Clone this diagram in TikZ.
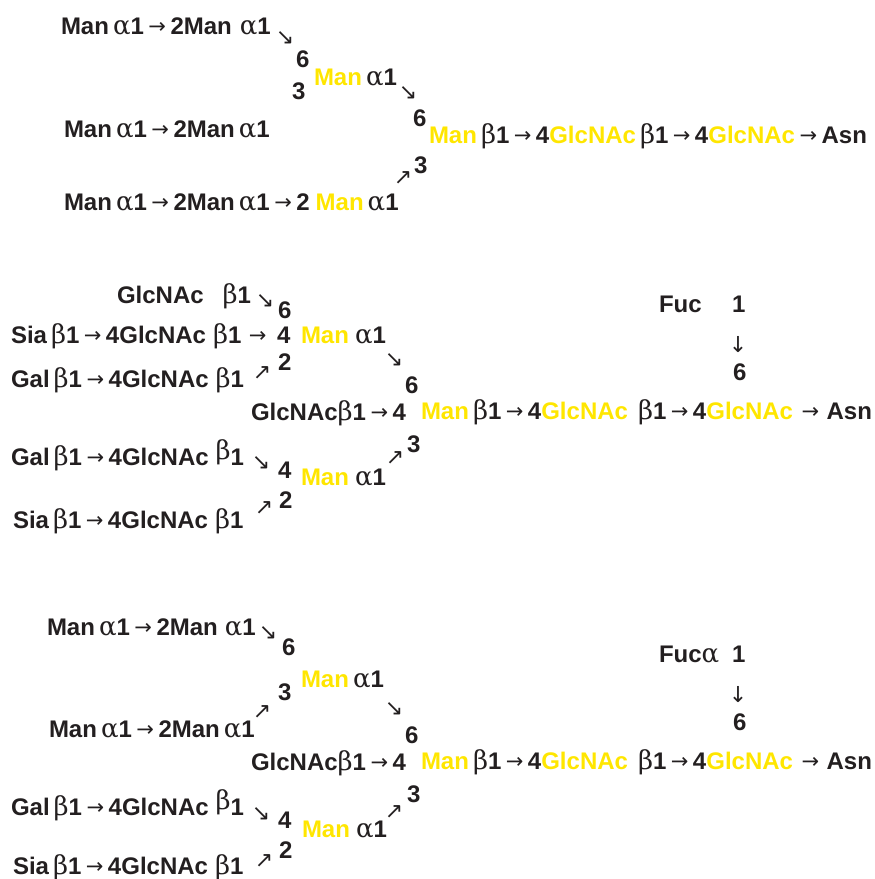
\documentclass[tikz,border=0pt]{standalone}
\usepackage{fontspec}
\setmainfont{Liberation Sans}
\newfontfamily\grkfont{DejaVu Serif}
\newfontfamily\arrfont{DejaVu Sans}
\usepackage{xcolor}
\definecolor{manyel}{RGB}{255,230,0}
\definecolor{ink}{RGB}{35,31,32}

\newcommand\gr[1]{{\grkfont\mdseries\fontsize{26}{26}\selectfont #1}}
\newcommand\alp{\kern4pt\gr{α}}
\newcommand\bet{\kern4pt\gr{β}}
\newcommand\rarr{\kern4.5pt\raisebox{1pt}{\arrfont\mdseries\fontsize{21}{21}\selectfont →}\kern4.5pt}
\newcommand\yel[1]{\textcolor{manyel}{#1}}

\begin{document}
\begin{tikzpicture}[x=1pt, y=-1pt,
  lbl/.style={anchor=base west, inner sep=0pt, outer sep=0pt, text=ink,
    font=\bfseries\fontsize{24}{24}\selectfont},
  arr/.style={inner sep=0pt, outer sep=0pt, text=ink,
    font=\arrfont\fontsize{22}{22}\selectfont}]
\useasboundingbox (0,0) rectangle (875,879);

% high-mannose
\node[lbl] (hmA) at (61,34) {Man\alp1\rarr2Man\kern4pt\alp1};
\node[arr] (hmAse) at (285,38) {↘};
\node[lbl] (hmSixA) at (296,67) {6};
\node[lbl] (hmThreeA) at (292,99) {3};
\node[lbl] (hmManA) at (314,85) {\yel{Man}\alp1};
\node[arr] (hmManAse) at (408,93) {↘};
\node[lbl] (hmSix) at (413,126) {6};
\node[lbl] (hmB) at (64,137) {Man\alp1\rarr2Man\alp1};
\node[lbl] (hmCore) at (429,143) {\yel{Man}\bet1\rarr4\yel{GlcNAc}\bet1\rarr4\yel{GlcNAc}\rarr Asn};
\node[lbl] (hmThree) at (414,173) {3};
\node[arr] (hmne) at (403,178) {↗};
\node[lbl] (hmC) at (64,210) {Man\alp1\rarr2Man\alp1\rarr2\kern6pt\yel{Man}\alp1};

% complex
\node[lbl] (cxG) at (117,303) {GlcNAc\kern15pt\bet1};
\node[arr] (cxGse) at (265,301) {↘};
\node[lbl] (cxSixA) at (278,318) {6};
\node[lbl] (cxSia) at (11,343) {Sia\bet1\rarr4GlcNAc\kern3pt\bet1\kern3pt\rarr};
\node[lbl] (cxFourA) at (277,343) {4};
\node[lbl] (cxManA) at (301,343) {\yel{Man}\kern2pt\alp1};
\node[lbl] (cxTwoA) at (278,370) {2};
\node[arr] (cxGalne) at (262,373) {↗};
\node[lbl] (cxGal) at (11,387) {Gal\bet1\rarr4GlcNAc\kern3pt\bet1};
\node[arr] (cxManAse) at (394,360) {↘};
\node[lbl] (cxSix) at (405,393) {6};
\node[lbl] (cxBis) at (251,420) {GlcNAc\gr{β}1\rarr4};
\node[lbl] (cxCore) at (421,419) {\yel{Man}\bet1\rarr4\yel{GlcNAc}\kern6pt\bet1\rarr4\yel{GlcNAc}\kern4pt\rarr\kern3pt Asn};
\node[lbl] (cxFuc) at (659,312) {Fuc};
\node[lbl] (cxFucOne) at (732,312) {1};
\node[arr] (cxFucDn) at (738,345) {↓};
\node[lbl] (cxFucSix) at (733,380) {6};
\node[lbl] (cxThree) at (407,452) {3};
\node[arr] (cxManBne) at (395,458) {↗};
\node[lbl] (cxGalB) at (11,465) {Gal\bet1\rarr4GlcNAc\kern3pt\raisebox{6pt}{\bet}1};
\node[arr] (cxGalBse) at (261,463) {↘};
\node[lbl] (cxFourB) at (278,478) {4};
\node[lbl] (cxManB) at (301,485) {\yel{Man}\kern2pt\alp1};
\node[arr] (cxSiaBne) at (264,508) {↗};
\node[lbl] (cxTwoB) at (279,508) {2};
\node[lbl] (cxSiaB) at (13,528) {Sia\bet1\rarr4GlcNAc\kern3pt\bet1};

% hybrid
\node[lbl] (hyA) at (47,635) {Man\alp1\rarr2Man\kern3pt\alp1};
\node[arr] (hyAse) at (268,633) {↘};
\node[lbl] (hySixA) at (282,655) {6};
\node[lbl] (hyManA) at (301,687) {\yel{Man}\alp1};
\node[lbl] (hyThreeA) at (278,700) {3};
\node[arr] (hyBne) at (262,712) {↗};
\node[lbl] (hyB) at (49,737) {Man\alp1\rarr2Man\alp1};
\node[arr] (hyManAse) at (394,709) {↘};
\node[lbl] (hySix) at (405,743) {6};
\node[lbl] (hyBis) at (251,770) {GlcNAc\gr{β}1\rarr4};
\node[lbl] (hyCore) at (421,769) {\yel{Man}\bet1\rarr4\yel{GlcNAc}\kern6pt\bet1\rarr4\yel{GlcNAc}\kern4pt\rarr\kern3pt Asn};
\node[lbl] (hyFuc) at (659,662) {Fuc\gr{α}};
\node[lbl] (hyFucOne) at (732,662) {1};
\node[arr] (hyFucDn) at (738,695) {↓};
\node[lbl] (hyFucSix) at (733,730) {6};
\node[lbl] (hyThree) at (407,802) {3};
\node[arr] (hyManBne) at (394,812) {↗};
\node[lbl] (hyGal) at (11,815) {Gal\bet1\rarr4GlcNAc\kern3pt\raisebox{6pt}{\bet}1};
\node[arr] (hyGalse) at (261,814) {↘};
\node[lbl] (hyFour) at (278,828) {4};
\node[lbl] (hyManB) at (302,837) {\yel{Man}\kern2pt\alp1};
\node[arr] (hySiane) at (264,861) {↗};
\node[lbl] (hyTwo) at (279,858) {2};
\node[lbl] (hySia) at (13,874) {Sia\bet1\rarr4GlcNAc\kern3pt\bet1};
\end{tikzpicture}
\end{document}
